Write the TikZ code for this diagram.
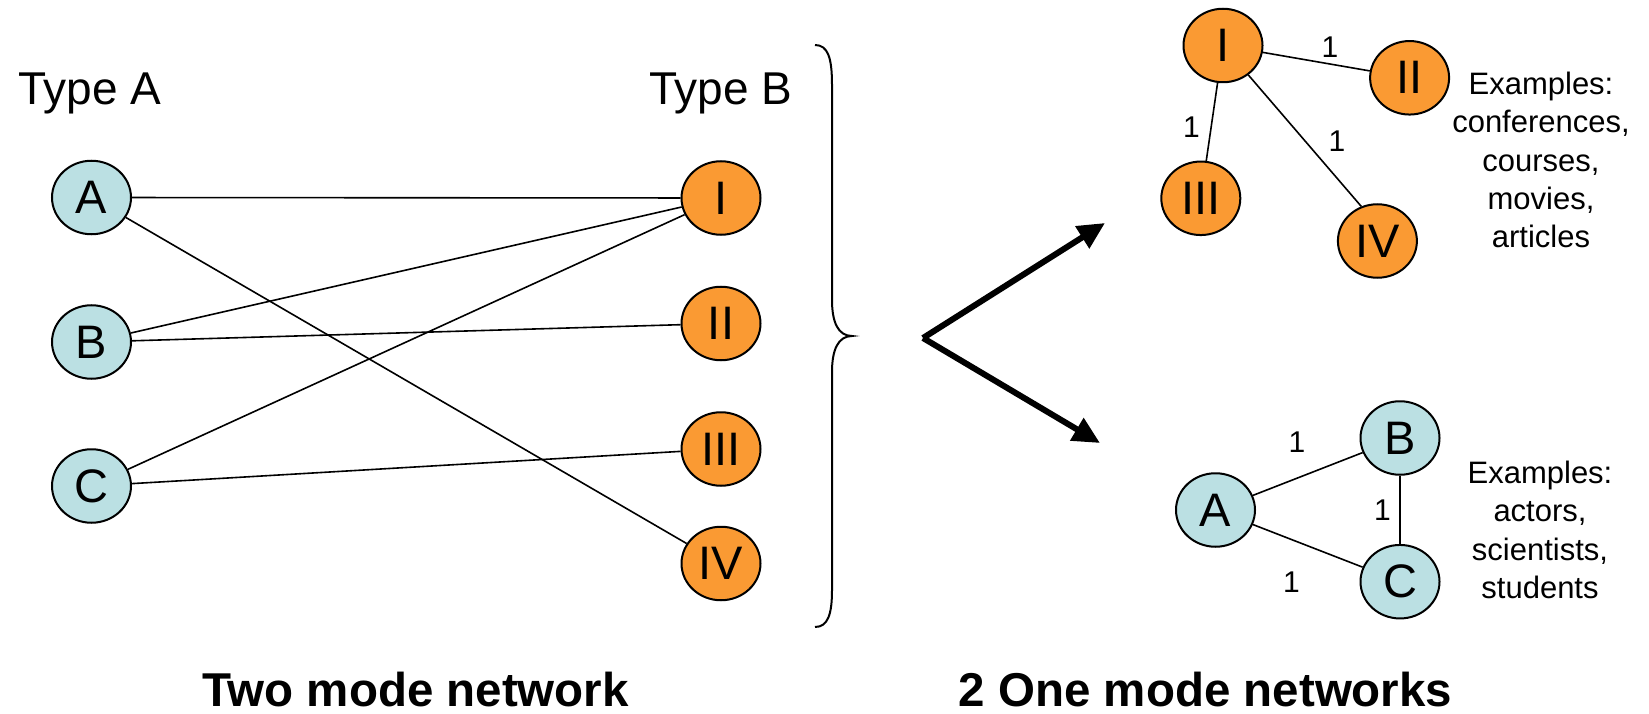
\documentclass[tikz,border=0pt]{standalone}
\usepackage{fontspec}
\setmainfont{Liberation Sans}
\usetikzlibrary{shapes.geometric,arrows.meta}
\definecolor{nodeblue}{RGB}{187,224,227}
\definecolor{nodeorange}{RGB}{250,154,51}
\begin{document}
\begin{tikzpicture}[x=1pt,y=-1pt,
  vert/.style={ellipse,draw=black,line width=2pt,minimum width=79pt,minimum height=73.5pt,
               inner sep=0pt,font=\fontsize{47}{47}\selectfont},
  typea/.style={vert,fill=nodeblue},
  typeb/.style={vert,fill=nodeorange},
  edge/.style={line width=1.6pt},
  weight/.style={inner sep=0pt,font=\fontsize{30}{30}\selectfont},
  note/.style={inner sep=0pt,anchor=base,font=\fontsize{31}{31}\selectfont},
  heading/.style={inner sep=0pt,anchor=base,font=\fontsize{46}{46}\selectfont},
  caption/.style={inner sep=0pt,anchor=base,font=\fontsize{47.5}{47.5}\selectfont\bfseries},
  bigarrow/.style={line width=6pt,-{Triangle[length=27pt,width=25pt]}},
]
\useasboundingbox (0,0) rectangle (1649,714);

% ---- two mode network ----
\node[heading] (hA) at (90,105) {Type A};
\node[heading] (hB) at (721,105) {Type B};

\node[typea] (A) at (91.5,197.5) {A};
\node[typea] (B) at (91.5,342) {B};
\node[typea] (C) at (91.5,486) {C};

\node[typeb] (I)   at (721,198)   {I};
\node[typeb] (II)  at (721,323.5) {II};
\node[typeb] (III) at (721,449)   {III};
\node[typeb] (IV)  at (721,563.5) {IV};

\draw[edge] (A) -- (I);
\draw[edge] (A) -- (IV);
\draw[edge] (B) -- (I);
\draw[edge] (B) -- (II);
\draw[edge] (C) -- (I);
\draw[edge] (C) -- (III);

% curly brace
\draw[line width=2pt]
  (815,45) .. controls (828,45) and (832,58) .. (832,85)
  -- (832,300) .. controls (832,322) and (838,336) .. (852,336)
  .. controls (838,336) and (832,350) .. (832,372)
  -- (832,590) .. controls (832,614) and (828,627) .. (815,627);

% projection arrows
\coordinate (fork) at (923,338);
\coordinate (upTip) at (1105,223);
\coordinate (downTip) at (1100,443);
\draw[bigarrow] (fork) -- (upTip);
\draw[bigarrow] (fork) -- (downTip);

% ---- one mode network of type B ----
\node[typeb] (TI)   at (1223,45.5)   {I};
\node[typeb] (TII)  at (1409.6,77.8) {II};
\node[typeb] (TIII) at (1200.8,198.3) {III};
\node[typeb] (TIV)  at (1377.4,241)  {IV};

\draw[edge] (TI) -- (TII);
\draw[edge] (TI) -- (TIII);
\draw[edge] (TI) -- (TIV.115);

\node[weight] (w1) at (1330,47)  {1};
\node[weight] (w2) at (1191.5,127) {1};
\node[weight] (w3) at (1337,141) {1};

\foreach \t [count=\k from 0] in {Examples:,conferences{,},courses{,},movies{,},articles}
  \node[note] (ex\k) at (1541,94.3+38.4*\k) {\t};

% ---- one mode network of type A ----
\node[typea] (BA) at (1215.5,510) {A};
\node[typea] (BB) at (1400,438)   {B};
\node[typea] (BC) at (1400,581.7) {C};

\draw[edge] (BA) -- (BB);
\draw[edge] (BA) -- (BC);
\draw[edge] (BB) -- (BC);

\node[weight] (w4) at (1297,442.5) {1};
\node[weight] (w5) at (1382.5,510) {1};
\node[weight] (w6) at (1291.5,582.5) {1};

\foreach \t [count=\k from 0] in {Examples:,actors{,},scientists{,},students}
  \node[note] (ey\k) at (1540,483.5+38.3*\k) {\t};

% ---- captions ----
\node[caption] (capL) at (415.5,706) {Two mode network};
\node[caption] (capR) at (1205.5,706) {2 One mode networks};
\end{tikzpicture}
\end{document}
